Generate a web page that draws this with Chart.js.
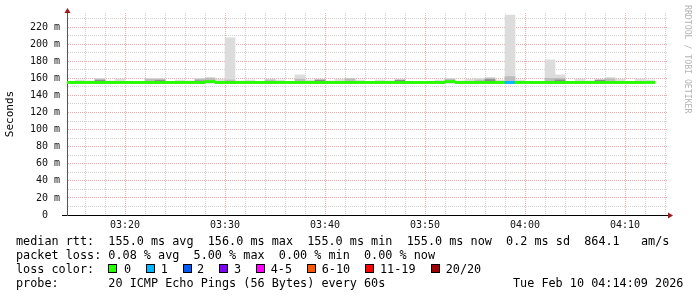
<!DOCTYPE html>
<html>
<head>
<meta charset="utf-8">
<script src="https://cdn.jsdelivr.net/npm/chart.js@4.4.1/dist/chart.umd.min.js"></script>
<style>
    html, body { margin: 0; padding: 0; background: #fff; }
    #wrap { position: relative; width: 697px; height: 297px; overflow: hidden; }
    #smoke { position: absolute; left: 0; top: 0; }
    .ln {
        position: absolute;
        font-family: "DejaVu Sans Mono", monospace;
        font-size: 11.8px;
        line-height: 14px;
        white-space: pre;
        color: #000;
    }
    .box {
        position: absolute;
        width: 9px;
        height: 9px;
        box-sizing: border-box;
        border: 1px solid #000;
    }
</style>
</head>
<body>
<div id="wrap">
    <canvas id="smoke" width="697" height="297"></canvas>
    <div class="ln" style="left:16px;top:234px">median rtt:  155.0 ms avg  156.0 ms max  155.0 ms min  155.0 ms now  0.2 ms sd  864.1   am/s</div>
    <div class="ln" style="left:16px;top:248px">packet loss: 0.08 % avg  5.00 % max  0.00 % min  0.00 % now</div>
    <div class="ln" style="left:16px;top:261.5px">loss color:</div>
    <div id="loss-legend"></div>
    <div class="ln" style="left:16px;top:276px">probe:       20 ICMP Echo Pings (56 Bytes) every 60s</div>
    <div class="ln" style="left:513px;top:276px">Tue Feb 10 04:14:09 2026</div>
</div>
<script>
// minutes after 03:00, one smoke bar per minute
const minutes = [14, 15, 16, 17, 18, 19, 20, 21, 22, 23,
    24, 25, 26, 27, 28, 29, 30, 31, 32, 33,
    34, 35, 36, 37, 38, 39, 40, 41, 42, 43,
    44, 45, 46, 47, 48, 49, 50, 51, 52, 53,
    54, 55, 56, 57, 58, 59, 60, 61, 62, 63,
    64, 65, 66, 67, 68, 69, 70, 71, 72];

// ms, outer smoke (slowest ping)
const smokeMax = [156, 158, 157, 160, 157, 159, 156, 156, 160, 159.5,
    156, 158, 157, 160, 161, 159, 207.5, 157, 158, 156.5,
    159, 158, 156.5, 164, 158, 158, 157, 159, 160, 158,
    156, 158, 157, 158, 156, 156, 156, 158, 160, 157,
    159, 160, 161, 158, 234, 158, 156, 156, 181.5, 164,
    156, 159, 157, 158, 161, 159, 156, 159, 158];

// ms, inner smoke
const smokeUpper = [null, null, null, 159, null, null, null, null, 159, 159,
    null, null, null, 159, 160, null, 158, null, null, null,
    158, null, null, 159, null, 158, null, null, 159.5, null,
    null, null, null, null, null, null, null, null, 159, null,
    null, 158, 160, null, 162, null, null, null, 160, 160,
    null, null, null, null, 159.5, null, null, null, null];

// ms, core smoke next to the median
const smokeCore = [null, null, null, 157.5, null, null, null, null, null, 157.5,
    null, null, null, 157, null, null, null, null, null, null,
    null, null, null, null, null, 158, null, null, null, null,
    null, null, null, 158, null, null, null, null, null, null,
    null, null, 158.5, null, null, null, null, null, null, 158,
    null, null, null, 158, null, null, null, null, null];

const medianRtt = [155, 155, 155, 155, 155, 155, 155, 155, 155, 155,
    155, 155, 155, 155, 156, 155, 155, 155, 155, 155,
    155, 155, 155, 155, 155, 155, 155, 155, 155, 155,
    155, 155, 155, 155, 155, 155, 155, 155, 156, 155,
    155, 155, 155, 155, 155, 155, 155, 155, 155, 155,
    155, 155, 155, 155, 155, 155, 155, 155, 155];

// lost pings out of 20
const lostPings = [0, 0, 0, 0, 0, 0, 0, 0, 0, 0,
    0, 0, 0, 0, 0, 0, 0, 0, 0, 0,
    0, 0, 0, 0, 0, 0, 0, 0, 0, 0,
    0, 0, 0, 0, 0, 0, 0, 0, 0, 0,
    0, 0, 0, 0, 1, 0, 0, 0, 0, 0,
    0, 0, 0, 0, 0, 0, 0, 0, 0];

const lossLabels = ["0", "1", "2", "3", "4-5", "6-10", "11-19", "20/20"];
const lossColors = ["#26ff00", "#00b8ff", "#0059ff", "#7e00ff", "#ff00ff", "#ff5500", "#ff0000", "#a10000"];

const xTickValues = [20, 30, 40, 50, 60, 70];
const xTickLabels = ["03:20", "03:30", "03:40", "03:50", "04:00", "04:10"];
const yTickValues = [0, 20, 40, 60, 80, 100, 120, 140, 160, 180, 200, 220];
const yTickLabels = ["0  ", "20 m", "40 m", "60 m", "80 m", "100 m", "120 m", "140 m", "160 m", "180 m", "200 m", "220 m"];

const MAJOR_GRID = "#f0a8a8";
const MINOR_GRID = "#d2d2d2";
const MONO = "'DejaVu Sans Mono', monospace";

function lossColorFor(n) {
    if (n <= 3) return lossColors[n];
    if (n <= 5) return lossColors[4];
    if (n <= 10) return lossColors[5];
    if (n <= 19) return lossColors[6];
    return lossColors[7];
}

function floatBars(values, base) {
    return minutes
        .map((m, i) => (values[i] === null ? null : { x: m + 0.5, y: [base, values[i]] }))
        .filter(Boolean);
}

function smokeSet(label, values, color, order) {
    return {
        label,
        data: floatBars(values, 154.5),
        backgroundColor: color,
        borderWidth: 0,
        grouped: false,
        categoryPercentage: 1,
        barPercentage: 1,
        order,
    };
}

// legend swatches
const legendEl = document.getElementById("loss-legend");
const boxX = [108, 145.7, 182.7, 219, 256, 306.7, 365, 430.7];
const textX = [124, 160.7, 197, 234, 270.7, 321.7, 380, 445.7];
lossLabels.forEach((lbl, i) => {
    const b = document.createElement("div");
    b.className = "box";
    b.style.left = boxX[i] + "px";
    b.style.top = "264px";
    b.style.background = lossColors[i];
    legendEl.appendChild(b);
    const t = document.createElement("div");
    t.className = "ln";
    t.style.left = textX[i] + "px";
    t.style.top = "261.5px";
    t.textContent = lbl;
    legendEl.appendChild(t);
});

const rrdDecor = {
    id: "rrdDecor",
    afterDraw(chart) {
        const { ctx, chartArea: a } = chart;
        ctx.save();
        ctx.strokeStyle = "#000";
        ctx.lineWidth = 1;
        ctx.beginPath();
        ctx.moveTo(a.left - 5, a.bottom + 0.5);
        ctx.lineTo(a.left, a.bottom + 0.5);
        ctx.stroke();

        ctx.fillStyle = "#a01818";
        ctx.beginPath();
        ctx.moveTo(a.right, a.bottom - 2.5);
        ctx.lineTo(a.right + 5, a.bottom + 0.5);
        ctx.lineTo(a.right, a.bottom + 3.5);
        ctx.closePath();
        ctx.fill();

        ctx.beginPath();
        ctx.moveTo(a.left - 2.5, a.top);
        ctx.lineTo(a.left + 0.5, a.top - 5);
        ctx.lineTo(a.left + 3.5, a.top);
        ctx.closePath();
        ctx.fill();

        ctx.translate(687, 5);
        ctx.rotate(Math.PI / 2);
        ctx.fillStyle = "#b4b4b4";
        ctx.font = "8.2px " + MONO;
        ctx.textAlign = "left";
        ctx.textBaseline = "middle";
        ctx.fillText("RRDTOOL / TOBI OETIKER", 0, 0);
        ctx.restore();
    },
};

new Chart(document.getElementById("smoke"), {
    type: "bar",
    data: {
        datasets: [
            {
                label: "median",
                data: minutes.map((m, i) => ({ x: m + 0.5, y: [medianRtt[i] - 1.2, medianRtt[i] + 1.4] })),
                backgroundColor: lostPings.map(lossColorFor),
                borderWidth: 0,
                grouped: false,
                categoryPercentage: 1,
                barPercentage: 1,
                order: 0,
            },
            smokeSet("core", smokeCore, "#8c8c8c", 1),
            smokeSet("upper", smokeUpper, "#bcbcbc", 2),
            smokeSet("max", smokeMax, "#dcdcdc", 3),
        ],
    },
    options: {
        responsive: false,
        animation: false,
        devicePixelRatio: 1,
        layout: { padding: { left: 0, top: 13, right: 29, bottom: 62 } },
        plugins: { legend: { display: false }, tooltip: { enabled: false } },
        scales: {
            x: {
                type: "linear",
                offset: false,
                min: 14.2,
                max: 74.3,
                afterBuildTicks(scale) {
                    const t = [];
                    for (let v = 16; v <= 74; v += 2) t.push({ value: v });
                    scale.ticks = t;
                },
                afterFit(scale) { scale.height = 20; },
                grid: {
                    offset: false,
                    drawTicks: false,
                    color: (c) => (c.tick && c.tick.value % 10 === 0 ? MAJOR_GRID : MINOR_GRID),
                },
                border: { display: true, color: "#000", width: 1, dash: [1, 1] },
                ticks: {
                    autoSkip: false,
                    maxRotation: 0,
                    padding: 4,
                    color: "#111",
                    font: { family: MONO, size: 10 },
                    callback: (v) => {
                        const k = xTickValues.indexOf(v);
                        return k === -1 ? "" : xTickLabels[k];
                    },
                },
            },
            y: {
                min: 0,
                max: 236.4,
                afterBuildTicks(scale) {
                    const t = [];
                    for (let v = 0; v <= 230; v += 10) t.push({ value: v });
                    scale.ticks = t;
                },
                afterFit(scale) { scale.width = 67; },
                grid: {
                    drawTicks: false,
                    color: (c) => (c.tick && c.tick.value % 20 === 0 ? MAJOR_GRID : MINOR_GRID),
                },
                border: { display: true, color: "#555", width: 1, dash: [1, 1] },
                title: {
                    display: true,
                    text: "Seconds",
                    color: "#000",
                    font: { family: MONO, size: 11 },
                },
                ticks: {
                    autoSkip: false,
                    padding: 7,
                    color: "#111",
                    font: { family: MONO, size: 10 },
                    callback: (v) => {
                        const k = yTickValues.indexOf(v);
                        return k === -1 ? "" : yTickLabels[k];
                    },
                },
            },
        },
    },
    plugins: [rrdDecor],
});
</script>
</body>
</html>
